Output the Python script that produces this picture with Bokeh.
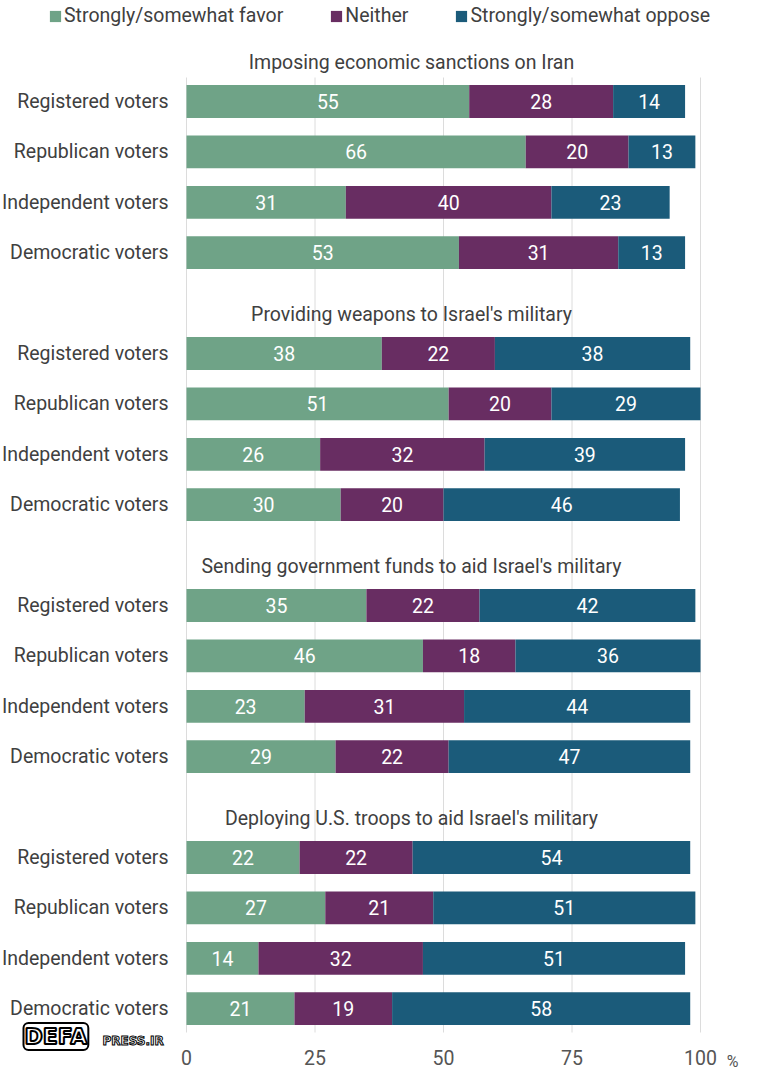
import numpy as np
from bokeh.plotting import figure
from bokeh.models import ColumnDataSource, Label, Legend, LegendItem, Range1d
from bokeh.embed import file_html
from bokeh.resources import INLINE

# ---------------- data ----------------
titles = [
    "Imposing economic sanctions on Iran",
    "Providing weapons to Israel's military",
    "Sending government funds to aid Israel's military",
    "Deploying U.S. troops to aid Israel's military",
]
groups = ["Registered voters", "Republican voters", "Independent voters", "Democratic voters"]
series_names = ["Strongly/somewhat favor", "Neither", "Strongly/somewhat oppose"]
favor = [55, 66, 31, 53, 38, 51, 26, 30, 35, 46, 23, 29, 22, 27, 14, 21]
neither = [28, 20, 40, 31, 22, 20, 32, 20, 22, 18, 31, 22, 22, 21, 32, 19]
oppose = [14, 13, 23, 13, 38, 29, 39, 46, 42, 36, 44, 47, 54, 51, 51, 58]
x_ticks = [0, 25, 50, 75, 100]
x_tick_labels = ["0", "25", "50", "75", "100"]

# ---------------- style ----------------
W, H = 762, 1080
FONT = "Roboto"
TXT = "#404040"
colors = ["#6fa387", "#682d62", "#1b5b7a"]
FS = "19.5px"

n_t = len(titles)
n_g = len(groups)
ypos = np.array([t * (n_g + 1) + r + 1 for t in range(n_t) for r in range(n_g)], dtype=float)
row_labels = [g for _ in titles for g in groups]

vals = np.array([favor, neither, oppose], dtype=float)
lefts = np.vstack([np.zeros(vals.shape[1]), np.cumsum(vals, axis=0)[:-1]])
rights = lefts + vals

# pixel geometry -> data geometry
px_per_unit = 5.14
x0_px = 186
y_unit = 50.4
row0_px = 101


def ydat(px):
    return 1 + (px - row0_px) / y_unit


def xdat(px):
    return (px - x0_px) / px_per_unit


p = figure(width=W, height=H, output_backend="svg", toolbar_location=None,
           x_range=Range1d(xdat(0), xdat(W)),
           y_range=Range1d(ydat(H), ydat(0)),
           x_axis_location=None, y_axis_location=None,
           min_border=0)
p.outline_line_color = None
p.background_fill_color = "white"
p.border_fill_color = "white"
p.xgrid.visible = False
p.ygrid.visible = False

# vertical grid lines at the x ticks
p.segment(x0=x_ticks, x1=x_ticks, y0=[ydat(77)] * len(x_ticks), y1=[ydat(1032)] * len(x_ticks),
          line_color="#dcdcdc", line_width=1, level="underlay")

renderers = []
for i in range(3):
    src = ColumnDataSource(dict(y=ypos, left=lefts[i], right=rights[i]))
    r = p.hbar(y="y", left="left", right="right", height=0.65, source=src,
               fill_color=colors[i], line_color=None)
    renderers.append(r)
for i in range(3):
    txt_src = ColumnDataSource(dict(x=(lefts[i] + rights[i]) / 2, y=ypos,
                                    t=[str(int(v)) for v in vals[i]]))
    p.text(x="x", y="y", text="t", source=txt_src, text_color="white",
           text_align="center", text_baseline="middle", text_font_size=FS,
           text_font={"value": FONT})

# category labels
lab_src = ColumnDataSource(dict(x=[xdat(168)] * len(ypos), y=ypos, t=row_labels))
p.text(x="x", y="y", text="t", source=lab_src, text_color=TXT,
       text_align="right", text_baseline="middle", text_font_size=FS,
       text_font={"value": FONT})

# section titles
title_src = ColumnDataSource(dict(x=[xdat(411)] * n_t,
                                  y=[t * (n_g + 1) + 1 - 0.77 for t in range(n_t)],
                                  t=titles))
p.text(x="x", y="y", text="t", source=title_src, text_color=TXT,
       text_align="center", text_baseline="middle", text_font_size=FS,
       text_font={"value": FONT})

# x tick labels
tick_src = ColumnDataSource(dict(x=x_ticks, y=[ydat(1057)] * len(x_ticks), t=x_tick_labels))
p.text(x="x", y="y", text="t", source=tick_src, text_color="#555555",
       text_align="center", text_baseline="middle", text_font_size=FS,
       text_font={"value": FONT})
p.add_layout(Label(x=xdat(732), y=ydat(1061), text="%",
                   text_align="center", text_baseline="middle",
                   text_font=FONT, text_font_size="16px", text_color="#555555"))

# watermark
p.add_layout(Label(x=xdat(23), y=ydat(1036), text="DEFA",
                   text_align="left", text_baseline="middle",
                   text_font="DejaVu Sans", text_font_size="22px", text_font_style="bold",
                   text_color="white", text_outline_color="black",
                   border_line_color="black", border_line_width=2,
                   background_fill_color="white", border_radius=5, padding=1))
p.add_layout(Label(x=xdat(102), y=ydat(1040), text="PRESS.IR",
                   text_align="left", text_baseline="middle",
                   text_font="DejaVu Sans", text_font_size="12px", text_font_style="bold",
                   text_color="white", text_outline_color="black"))

# legend
legend = Legend(items=[LegendItem(label=n, renderers=[r]) for n, r in zip(series_names, renderers)],
                orientation="horizontal", location=(48, H - 27),
                glyph_width=14, glyph_height=14, label_standoff=2, spacing=46,
                padding=0, margin=0, border_line_color=None, background_fill_alpha=0,
                label_text_font=FONT, label_text_font_size=FS, label_text_color=TXT)
p.add_layout(legend)

open("out.html", "w").write(file_html(p, INLINE))
